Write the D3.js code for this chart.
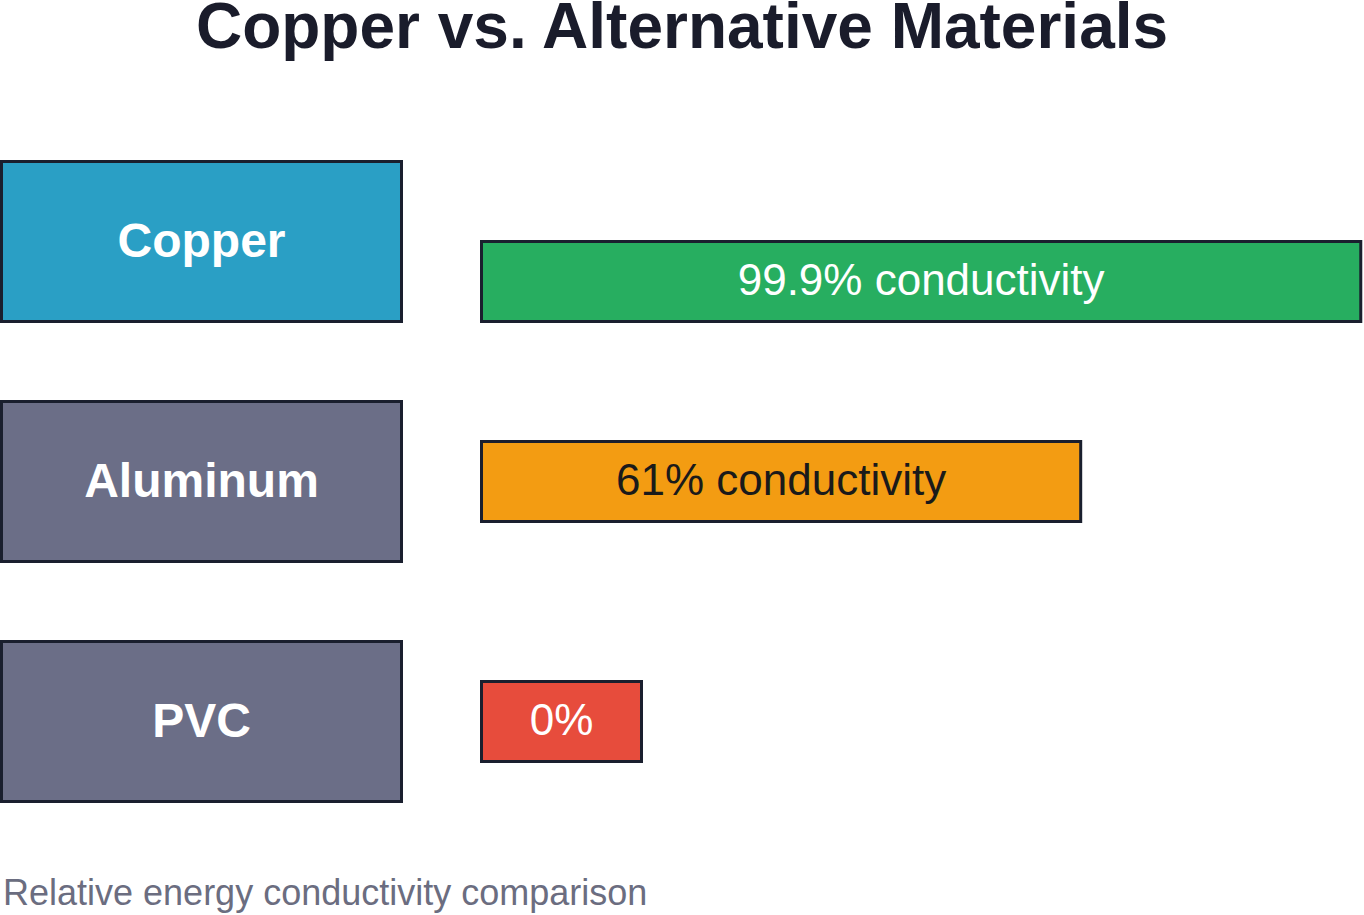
<!DOCTYPE html>
<html>
<head>
<meta charset="utf-8">
<script src="https://cdn.jsdelivr.net/npm/d3@7"></script>
<style>
  html, body { margin: 0; padding: 0; background: #ffffff; }
  svg { display: block; }
</style>
</head>
<body>
<script>
const materials = ["Copper", "Aluminum", "PVC"];
const conductivity = [99.9, 61, 0];
const barLabels = ["99.9% conductivity", "61% conductivity", "0%"];

const boxColors = ["#2a9fc5", "#6b6e87", "#6b6e87"];
const barColors = ["#27ae60", "#f39c12", "#e74c3c"];
const barTextColors = ["#ffffff", "#1a1a1a", "#ffffff"];

const width = 1364, height = 915;
const stroke = "#1a1f2e";

const svg = d3.select('body').append('svg')
  .attr('width', width)
  .attr('height', height);

// rows: 160px boxes, 240px apart
const y = d3.scaleBand().domain(materials).range([161.5, 801.5]).paddingInner(1 / 3).paddingOuter(0);
const rowH = y.bandwidth();

// bar length (min width so the label fits)
const w = d3.scaleLinear().domain([0, 100]).range([160, 880]);

// copper's bar sits on the bottom of its box, the others are centred
const barTop = (i) => y(materials[i]) + (i === 0 ? rowH / 2 : rowH / 4);

svg.append('text')
  .attr('x', width / 2)
  .attr('y', 48)
  .attr('text-anchor', 'middle')
  .attr('font-family', '"Liberation Sans", Arial, sans-serif')
  .attr('font-weight', 'bold')
  .attr('font-size', '64px')
  .attr('fill', '#1a1c2b')
  .text('Copper vs. Alternative Materials');

// material boxes
svg.selectAll('rect.box')
  .data(materials)
  .enter().append('rect')
  .attr('class', 'box')
  .attr('x', 1.5)
  .attr('y', d => y(d))
  .attr('width', 400)
  .attr('height', rowH)
  .attr('fill', (d, i) => boxColors[i])
  .attr('stroke', stroke)
  .attr('stroke-width', 3);

svg.selectAll('text.box')
  .data(materials)
  .enter().append('text')
  .attr('class', 'box')
  .attr('x', 201.5)
  .attr('y', d => y(d) + rowH / 2)
  .attr('dy', '0.33em')
  .attr('text-anchor', 'middle')
  .attr('font-family', '"Liberation Sans", Arial, sans-serif')
  .attr('font-weight', 'bold')
  .attr('font-size', '48px')
  .attr('fill', '#ffffff')
  .text(d => d);

// conductivity bars
svg.selectAll('rect.bar')
  .data(conductivity)
  .enter().append('rect')
  .attr('class', 'bar')
  .attr('x', 481.5)
  .attr('y', (d, i) => barTop(i))
  .attr('width', d => w(d))
  .attr('height', rowH / 2)
  .attr('fill', (d, i) => barColors[i])
  .attr('stroke', stroke)
  .attr('stroke-width', 3);

svg.selectAll('text.bar')
  .data(conductivity)
  .enter().append('text')
  .attr('class', 'bar')
  .attr('x', d => 481.5 + w(d) / 2)
  .attr('y', (d, i) => barTop(i) + rowH / 4)
  .attr('dy', '0.31em')
  .attr('text-anchor', 'middle')
  .attr('font-family', '"Liberation Sans", Arial, sans-serif')
  .attr('font-size', '44px')
  .attr('fill', (d, i) => barTextColors[i])
  .text((d, i) => barLabels[i]);

svg.append('text')
  .attr('x', 3)
  .attr('y', 905)
  .attr('font-family', '"Liberation Sans", Arial, sans-serif')
  .attr('font-size', '36px')
  .attr('fill', '#6b6d80')
  .text('Relative energy conductivity comparison');
</script>
</body>
</html>
